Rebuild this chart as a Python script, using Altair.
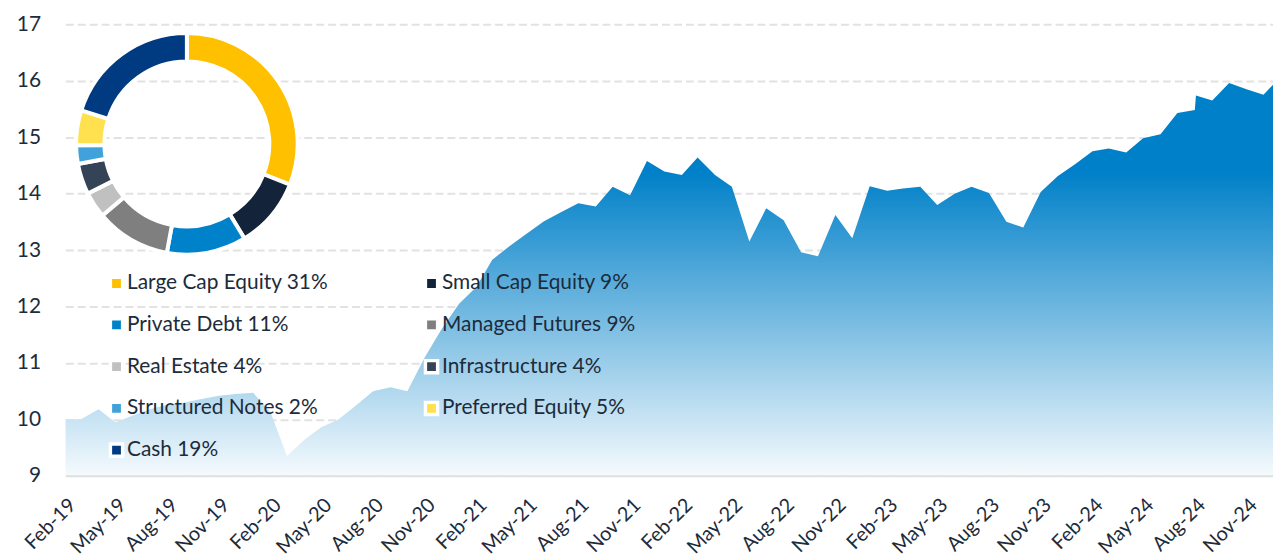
import altair as alt
import pandas as pd

# ---------------- data ----------------
months = pd.date_range("2019-02-01", periods=72, freq="MS").strftime("%Y-%m-%d").tolist()
values = [10.00, 10.00, 10.18, 9.95, 10.07, 10.18, 10.26, 10.30, 10.36, 10.42,
          10.45, 10.47, 10.12, 9.35, 9.64, 9.86, 10.00, 10.24, 10.50, 10.57,
          10.50, 11.10, 11.60, 12.05, 12.35, 12.83, 13.07, 13.29, 13.51, 13.67,
          13.83, 13.77, 14.12, 13.97, 14.58, 14.39, 14.33, 14.64, 14.33, 14.12,
          13.15, 13.74, 13.53, 12.96, 12.89, 13.62, 13.21, 14.13, 14.05, 14.09,
          14.12, 13.80, 14.00, 14.12, 14.01, 13.50, 13.40, 14.03, 14.31, 14.52,
          14.75, 14.80, 14.73, 14.98, 15.05, 15.43, 15.48, 15.65, 15.96, 15.85,
          15.75, 16.08]
step_date = ["2024-08-03"]
step_value = [15.74]

tick_labels = ["Feb-19", "May-19", "Aug-19", "Nov-19", "Feb-20", "May-20", "Aug-20", "Nov-20",
               "Feb-21", "May-21", "Aug-21", "Nov-21", "Feb-22", "May-22", "Aug-22", "Nov-22",
               "Feb-23", "May-23", "Aug-23", "Nov-23", "Feb-24", "May-24", "Aug-24", "Nov-24"]
y_ticks = [9, 10, 11, 12, 13, 14, 15, 16, 17]

names = ["Large Cap Equity", "Small Cap Equity", "Private Debt", "Managed Futures",
         "Real Estate", "Infrastructure", "Structured Notes", "Preferred Equity", "Cash"]
pct_labels = [31, 9, 11, 9, 4, 4, 2, 5, 19]
slice_share = [31.0, 10.3, 11.6, 10.9, 3.8, 4.5, 2.7, 5.1, 20.1]
colors = ["#FFC000", "#13233A", "#0082CA", "#7F7F7F", "#C0C0C0",
          "#344356", "#41A1DB", "#FFE04E", "#003A80"]

# ---------------- tables ----------------
line_df = pd.DataFrame({"date": months + step_date, "value": values + step_value})
line_df = line_df.sort_values("date").reset_index(drop=True)

labels = [f"{n} {p}%" for n, p in zip(names, pct_labels)]
alloc_df = pd.DataFrame({"label": labels, "share": slice_share, "idx": list(range(len(names)))})

tick_dates = [pd.to_datetime(t, format="%b-%y") for t in tick_labels]
tick_values = [alt.DateTime(year=d.year, month=d.month, date=1, utc=True) for d in tick_dates]

FONT = "Lato"
TXT = "#1d2b3a"

area = alt.Chart(line_df).mark_area(
    clip=True,
    color=alt.Gradient(
        gradient="linear",
        stops=[alt.GradientStop(color="#0080C8", offset=0),
               alt.GradientStop(color="#0080C8", offset=0.24),
               alt.GradientStop(color="#F5FAFD", offset=1)],
        x1=1, x2=1, y1=0, y2=1),
).encode(
    x=alt.X("date:T",
            scale=alt.Scale(type="utc",
                            domain=[alt.DateTime(year=2019, month=2, date=1, utc=True),
                                    alt.DateTime(year=2024, month=12, date=18, utc=True)]),
            axis=alt.Axis(values=tick_values, format="%b-%y", labelAngle=-45,
                          labelFontSize=20, labelFont=FONT, labelColor=TXT,
                          grid=False, ticks=False, tickSize=0, labelPadding=19,
                          domainColor="#e0e0e0", domainWidth=2, title=None,
                          labelOverlap=False, labelFlush=False, labelBound=False, zindex=1)),
    y=alt.Y("value:Q",
            scale=alt.Scale(domain=[9, 17], zero=False, nice=False),
            axis=alt.Axis(values=y_ticks, labelFontSize=21, labelFont=FONT, labelColor=TXT,
                          grid=True, gridDash=[8, 4], gridColor="#e2e2e2", gridWidth=2,
                          domain=False, ticks=False, tickSize=0, labelPadding=25, title=None)),
    y2=alt.datum(9),
)

arc = alt.Chart(alloc_df).mark_arc(
    innerRadius=83, outerRadius=111.5, stroke="white", strokeWidth=4
).encode(
    theta=alt.Theta("share:Q", stack=True),
    color=alt.Color("label:N",
                    scale=alt.Scale(domain=labels, range=colors),
                    sort=labels,
                    legend=alt.Legend(orient="none", legendX=41, legendY=250, columns=2,
                                      direction="horizontal",
                                      symbolType="square", symbolSize=150,
                                      symbolStrokeColor="white", symbolStrokeWidth=3.4,
                                      labelFontSize=21, labelFont=FONT, labelColor=TXT,
                                      labelLimit=500, rowPadding=15, columnPadding=90,
                                      labelOffset=0, title=None)),
    order=alt.Order("idx:Q"),
    x=alt.value(122.3),
    y=alt.value(120.3),
)

chart = alt.layer(area, arc).properties(
    width=1215.3, height=454.3,
    padding={"left": 57.7, "top": 14.7, "right": 0, "bottom": 80},
    autosize=alt.AutoSizeParams(type="none"),
).configure_view(stroke=None)

chart.save("out.html", embed_options={"renderer": "svg", "actions": False})
